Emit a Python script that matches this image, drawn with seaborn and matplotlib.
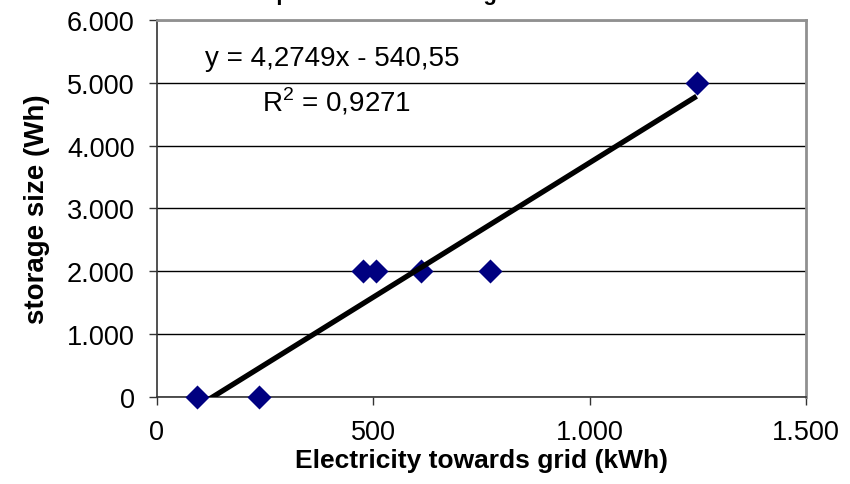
import numpy as np
import pandas as pd
import matplotlib.pyplot as plt
import seaborn as sns
from matplotlib.ticker import FuncFormatter

# values
grid_kwh = [93, 235, 477, 505, 611, 770, 1247]
storage_wh = [0, 0, 2000, 2000, 2000, 2000, 5000]
equation = "y = 4,2749x - 540,55"
r_squared = "R$^2$ = 0,9271"
title = "Comparison of the storage needs at homes"

df = pd.DataFrame({"grid": grid_kwh, "storage": storage_wh})

sns.set_style("white")
plt.rcParams['font.family'] = ['Liberation Sans', 'DejaVu Sans']
plt.rcParams['mathtext.fontset'] = 'custom'
plt.rcParams['mathtext.rm'] = 'Liberation Sans'
plt.rcParams['text.color'] = 'black'
plt.rcParams['axes.labelcolor'] = 'black'

fig = plt.figure(figsize=(8.5, 4.85), dpi=100)
ax = fig.add_axes([0.1847, 0.1794, 0.7636, 0.7773])

sns.regplot(data=df, x="grid", y="storage", ax=ax, ci=None, truncate=True,
            marker="D",
            scatter_kws=dict(color="#000080", s=150, alpha=1, linewidths=0,
                             clip_on=False, zorder=3),
            line_kws=dict(color="black", lw=3.8, zorder=4, solid_capstyle="butt"))

ax.set_xlim(0, 1500)
ax.set_ylim(0, 6000)
ax.set_xticks([0, 500, 1000, 1500])
ax.set_yticks(range(0, 6001, 1000))

fmt = FuncFormatter(lambda v, p: f"{int(v):,}".replace(",", "."))
ax.xaxis.set_major_formatter(fmt)
ax.yaxis.set_major_formatter(fmt)

ax.yaxis.grid(True, color="black", lw=1)
ax.set_axisbelow(True)
ax.tick_params(axis="both", labelsize=19.5, length=6, width=1, color="#333333",
               labelcolor="black", direction="out", bottom=True, left=True)
ax.tick_params(axis="x", pad=10)
ax.tick_params(axis="y", pad=10)

for s in ["left", "bottom"]:
    ax.spines[s].set_color("#333333")
    ax.spines[s].set_linewidth(1.2)
for s in ["top", "right"]:
    ax.spines[s].set_color("#909090")
    ax.spines[s].set_linewidth(2)

ax.set_xlabel("Electricity towards grid (kWh)", fontsize=19, fontweight="bold", labelpad=2)
ax.set_ylabel("storage size (Wh)", fontsize=20, fontweight="bold", labelpad=12)

ax.text(0.074, 0.898, equation, transform=ax.transAxes, fontsize=20, ha="left", va="center")
ax.text(0.162, 0.787, r_squared, transform=ax.transAxes, fontsize=20, ha="left", va="center")

fig.text(0.535, 1.0, title, fontsize=16, fontweight="bold", ha="center", va="baseline")

fig.savefig("out.png", dpi=100)
